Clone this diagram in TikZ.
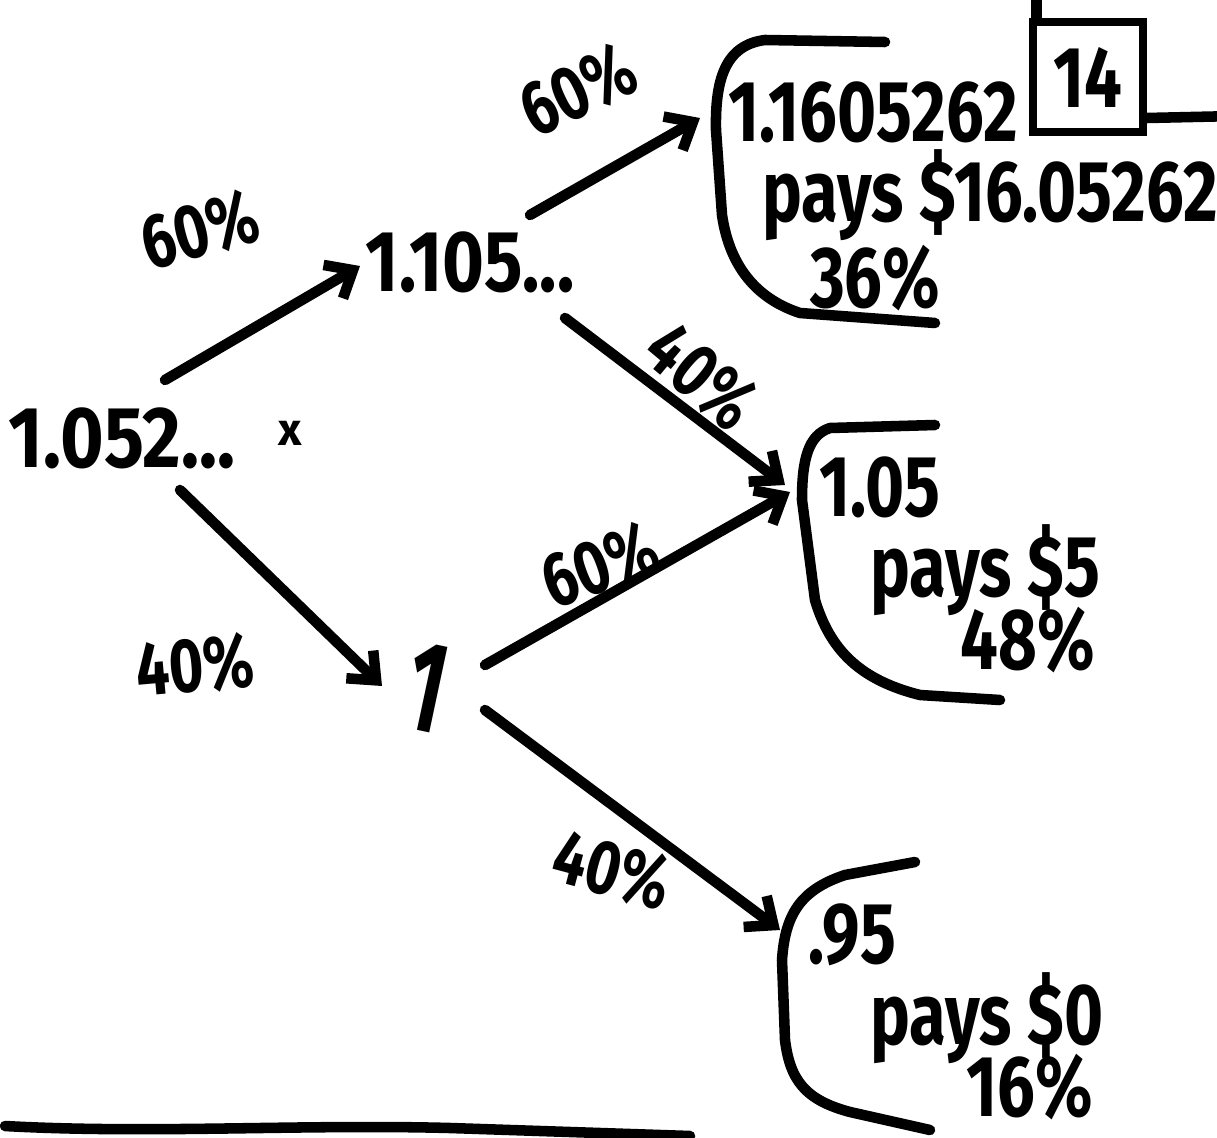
\documentclass[tikz,border=0pt]{standalone}
\usepackage{graphicx}
\usepackage{fontspec}
\setmainfont{Fira Sans}
\usetikzlibrary{arrows.meta}
\newcommand\tallt[1]{\scalebox{1.12}[1.45]{#1}}
\begin{document}
\begin{tikzpicture}[x=0.02cm,y=-0.02cm,
  ink/.style={line width=6pt, line cap=round, line join=round},
  arr/.style={ink, -{Straight Barb[length=13pt,width=22pt]}},
  hand/.style={font=\fontsize{34}{40}\selectfont\bfseries, inner sep=0pt},
  lab/.style={hand, font=\fontsize{30}{36}\selectfont\bfseries}]
\useasboundingbox (0,0) rectangle (1217,1138);

% tree nodes
\node[hand] (n0) at (122,438) {\scalebox{1.25}[1.45]{1.052...}};
\node[hand, font=\fontsize{26}{26}\selectfont\bfseries] (xm) at (290,433) {x};
\node[hand] (n1) at (470,262) {\scalebox{1.2}[1.45]{1.105...}};
\node[hand, font=\fontsize{46}{46}\selectfont\bfseries, rotate=-12] (n2) at (427,688) {\scalebox{1}[1.6]{1}};

% connector end points
\coordinate (a1s) at (165,380); \coordinate (a1e) at (360,266);
\coordinate (a2s) at (180,490); \coordinate (a2e) at (382,686);
\coordinate (a3s) at (530,215); \coordinate (a3e) at (700,118);
\coordinate (a4s) at (565,318); \coordinate (a4e) at (785,485);
\coordinate (a5s) at (485,665); \coordinate (a5e) at (790,492);
\coordinate (a6s) at (485,710); \coordinate (a6e) at (780,930);

\draw[arr] (a1s) -- (a1e);
\draw[arr] (a2s) -- (a2e);
\draw[arr] (a3s) -- (a3e);
\draw[arr] (a4s) -- (a4e);
\draw[arr] (a5s) -- (a5e);
\draw[arr] (a6s) -- (a6e);

% probability labels
\node[lab, rotate=15]  (l1) at (200,230) {\tallt{60\%}};
\node[lab, rotate=5]   (l2) at (195,665) {\tallt{40\%}};
\node[lab, rotate=25]  (l3) at (578,90)  {\tallt{60\%}};
\node[lab, rotate=-40] (l4) at (702,376) {\tallt{40\%}};
\node[lab, rotate=20]  (l5) at (600,565) {\tallt{60\%}};
\node[lab, rotate=-15] (l6) at (612,870) {\tallt{40\%}};

% top outcome
\draw[ink] (885,42) -- (765,40) .. controls (725,45) and (715,80) .. (716,130)
  -- (722,215) .. controls (730,270) and (760,300) .. (800,313) -- (935,323);
\node[hand] (t1a) at (873,112) {\tallt{1.1605262}};
\node[hand] (t1b) at (990,195) {\tallt{pays \$16.05262}};
\node[hand] (t1c) at (875,278) {\tallt{36\%}};
\node[hand, draw, line width=5pt, minimum width=2.2cm, minimum height=2.2cm] (b14) at (1088,77) {\tallt{14}};
\draw[ink] ([xshift=0.16cm]b14.north west) -- ++(0,-30);
\draw[ink] ([yshift=-0.82cm]b14.east) -- ++(90,-2);

% middle outcome
\draw[ink] (935,425) -- (830,428) .. controls (808,435) and (802,460) .. (802,500)
  -- (815,600) .. controls (830,650) and (860,680) .. (920,695) -- (1000,700);
\node[hand] (t2a) at (880,487) {\tallt{1.05}};
\node[hand] (t2b) at (985,570) {\tallt{pays \$5}};
\node[hand] (t2c) at (1028,640) {\tallt{48\%}};

% bottom outcome
\draw[ink] (915,862) -- (845,875) .. controls (800,890) and (785,915) .. (782,960)
  -- (785,1040) .. controls (790,1080) and (805,1100) .. (850,1112) -- (930,1130);
\node[hand] (t3a) at (852,935) {\tallt{.95}};
\node[hand] (t3b) at (987,1018) {\tallt{pays \$0}};
\node[hand] (t3c) at (1030,1087) {\tallt{16\%}};

% base line
\draw[ink] (5,1126) .. controls (150,1134) and (300,1124) .. (450,1128) -- (690,1136);
\end{tikzpicture}
\end{document}
